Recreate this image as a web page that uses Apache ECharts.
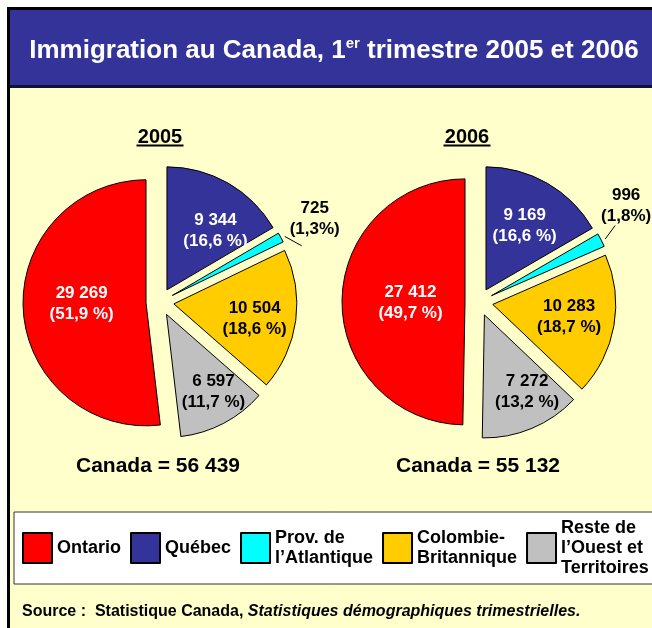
<!DOCTYPE html>
<html>
<head>
<meta charset="utf-8">
<script src="https://cdn.jsdelivr.net/npm/echarts@6/dist/echarts.min.js"></script>
<style>
  html, body { margin: 0; padding: 0; background: #ffffff; }
  #chart { width: 652px; height: 628px; }
</style>
</head>
<body>
<div id="chart"></div>
<script>
// ---- data ----
const categories = ['Ontario', 'Québec', 'Prov. de\nl’Atlantique', 'Colombie-\nBritannique', 'Reste de\nl’Ouest et\nTerritoires'];
const values2005 = [29269, 9344, 725, 10504, 6597];
const values2006 = [27412, 9169, 996, 10283, 7272];
const shares2005 = ['51,9', '16,6', '1,3', '18,6', '11,7'];
const shares2006 = ['49,7', '16,6', '1,8', '18,7', '13,2'];
const years = ['2005', '2006'];
const totals = [56439, 55132];

// ---- styling ----
const FONT = "'Liberation Sans', Arial, Helvetica, sans-serif";
const colors = ['#FF0000', '#333399', '#00FFFF', '#FFCC00', '#C0C0C0'];
const labelColors = ['#ffffff', '#ffffff', '#000000', '#000000', '#000000'];
const drawOrder = [1, 2, 3, 4, 0]; // clockwise from 12 o'clock
const smallIdx = 2;
const centersX = [160, 479];
const centerY = 302;
const R = 123;
const explode = 14;
// label nudges (per pie, per category) to mimic the original label placement
const labelNudge = [
  [[15, -4], [9, 10], [-12, -14], [2, 4], [10, 7]],
  [[25, 2], [-1, 5], [-21, -30], [-2, -1], [12, 4]]
];
// arrow end offset from the moved label anchor
const arrowEnd = [[20, 27], [22, 20]];

function fmt(v) { return String(v).replace(/\B(?=(\d{3})+(?!\d))/g, ' '); }

const yearSets = [
  { values: values2005, shares: shares2005 },
  { values: values2006, shares: shares2006 }
];

const series = [];
yearSets.forEach((ys, yi) => {
  const center = [centersX[yi], centerY];
  series.push({
    type: 'pie',
    center: center,
    radius: [0, R],
    startAngle: 90,
    clockwise: true,
    selectedMode: 'multiple',
    selectedOffset: explode,
    animation: false,
    avoidLabelOverlap: false,
    emphasis: { disabled: true },
    label: { show: false },
    labelLine: { show: false },
    itemStyle: { borderColor: '#000', borderWidth: 1 },
    select: { itemStyle: { borderColor: '#000', borderWidth: 1 } },
    data: drawOrder.map(k => ({
      name: categories[k],
      value: ys.values[k],
      selected: true,
      itemStyle: { color: colors[k] }
    }))
  });
  series.push({
    type: 'pie',
    center: center,
    radius: [30, R],
    startAngle: 90,
    clockwise: true,
    selectedMode: 'multiple',
    selectedOffset: explode,
    animation: false,
    silent: true,
    avoidLabelOverlap: false,
    emphasis: { disabled: true },
    itemStyle: { color: 'rgba(0,0,0,0)', borderWidth: 0 },
    select: { itemStyle: { color: 'rgba(0,0,0,0)', borderWidth: 0 } },
    labelLine: { show: true, length: 10, length2: 4, smooth: false, lineStyle: { color: '#000', width: 1 } },
    labelLayout: function (p) {
      const k = drawOrder[p.dataIndex];
      const n = labelNudge[yi][k];
      if (k === smallIdx && p.labelLinePoints) {
        const pts = p.labelLinePoints;
        const tip = [pts[0][0] + 4, pts[0][1] - 1];
        const end = [pts[2][0] + n[0] + arrowEnd[yi][0], pts[2][1] + n[1] + arrowEnd[yi][1]];
        return { dx: n[0], dy: n[1], labelLinePoints: [tip, tip, end] };
      }
      return { dx: n[0], dy: n[1] };
    },
    data: drawOrder.map(k => {
      const small = k === smallIdx;
      return {
        name: categories[k],
        value: ys.values[k],
        selected: true,
        label: small ? {
          show: true,
          position: 'outside',
          formatter: '{c|' + fmt(ys.values[k]) + '}\n{c|(' + ys.shares[k] + '%)}',
          rich: { c: { width: 56, align: 'center', fontSize: 17, fontWeight: 'bold', lineHeight: 21, color: '#000', fontFamily: FONT } }
        } : {
          show: true,
          position: 'inside',
          formatter: fmt(ys.values[k]) + '\n(' + ys.shares[k] + ' %)',
          color: labelColors[k],
          fontSize: 17,
          fontWeight: 'bold',
          lineHeight: 21,
          fontFamily: FONT,
          align: 'center'
        },
        labelLine: { show: small }
      };
    })
  });
});

const graphics = [
  { type: 'rect', z: 0, shape: { x: 10, y: 88, width: 700, height: 600 }, style: { fill: '#FFFFCC' } },
  { type: 'rect', z: 0, shape: { x: 10, y: 10, width: 700, height: 76 }, style: { fill: '#333399' } },
  { type: 'line', z: 1, shape: { x1: 10, y1: 86.5, x2: 700, y2: 86.5 }, style: { stroke: '#111133', lineWidth: 3 } },
  { type: 'rect', z: 1, shape: { x: 8.5, y: 8.5, width: 700, height: 700 }, style: { fill: 'none', stroke: '#000', lineWidth: 3 } },
  {
    type: 'text', z: 2, x: 334, y: 51,
    style: {
      text: '{a|Immigration au Canada, 1}{s|er}{a| trimestre 2005 et 2006}',
      align: 'center', verticalAlign: 'middle',
      rich: {
        a: { fontSize: 26, fontWeight: 'bold', fontFamily: FONT, fill: '#fff', lineHeight: 30 },
        s: { fontSize: 15, fontWeight: 'bold', fontFamily: FONT, fill: '#fff', lineHeight: 15, verticalAlign: 'top' }
      }
    }
  },
  {
    type: 'text', z: 2, x: 22, y: 612,
    style: {
      text: '{b|Source :  Statistique Canada, }{i|Statistiques démographiques trimestrielles.}',
      align: 'left', verticalAlign: 'middle',
      rich: {
        b: { fontSize: 16, fontWeight: 'bold', fontFamily: FONT, fill: '#000' },
        i: { fontSize: 16, fontWeight: 'bold', fontStyle: 'italic', fontFamily: FONT, fill: '#000' }
      }
    }
  }
];

const yearX = [160, 467];
years.forEach((y, i) => {
  graphics.push({
    type: 'text', z: 2, x: yearX[i], y: 137,
    style: { text: y, align: 'center', verticalAlign: 'middle', fontSize: 20, fontWeight: 'bold', fontFamily: FONT, fill: '#000' }
  });
  graphics.push({
    type: 'line', z: 2,
    shape: { x1: yearX[i] - 23.5, y1: 145.5, x2: yearX[i] + 23.5, y2: 145.5 },
    style: { stroke: '#000', lineWidth: 2 }
  });
});
const totalX = [158, 478];
totals.forEach((t, i) => {
  graphics.push({
    type: 'text', z: 2, x: totalX[i], y: 466,
    style: { text: 'Canada = ' + fmt(t), align: 'center', verticalAlign: 'middle', fontSize: 21, fontWeight: 'bold', fontFamily: FONT, fill: '#000' }
  });
});

const chart = echarts.init(document.getElementById('chart'), null, { renderer: 'canvas' });
chart.setOption({
  backgroundColor: '#ffffff',
  animation: false,
  textStyle: { fontFamily: FONT },
  graphic: graphics,
  legend: {
    data: categories,
    left: 14,
    top: 512,
    width: 700,
    orient: 'horizontal',
    icon: 'rect',
    itemWidth: 29,
    itemHeight: 30,
    itemGap: 9,
    padding: [6, 30, 6, 8],
    backgroundColor: '#ffffff',
    borderColor: '#333333',
    borderWidth: 1,
    selectedMode: false,
    textStyle: { fontSize: 18, fontWeight: 'bold', color: '#000', lineHeight: 20, fontFamily: FONT }
  },
  series: series
});
</script>
</body>
</html>
